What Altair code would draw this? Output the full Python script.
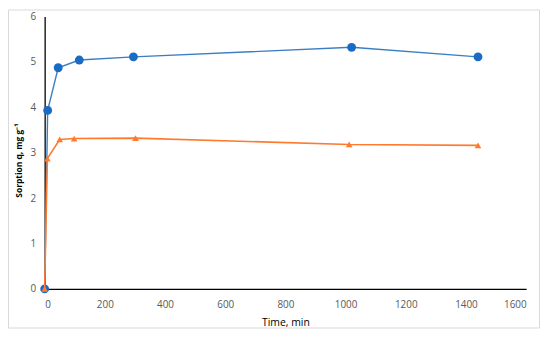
import altair as alt
import pandas as pd

# Data
time_blue = [0, 10, 45, 115, 295, 1020, 1440]
q_blue = [0, 3.93, 4.87, 5.04, 5.11, 5.32, 5.11]
time_orange = [0, 9, 50, 98, 302, 1012, 1440]
q_orange = [0, 2.87, 3.29, 3.31, 3.32, 3.18, 3.16]

x_ticks = list(range(0, 1601, 200))
y_ticks = [0, 1, 2, 3, 4, 5, 6]

blue_df = pd.DataFrame({"t": time_blue, "q": q_blue})
orange_df = pd.DataFrame({"t": time_orange, "q": q_orange})

xs = alt.Scale(domain=[0, 1600], nice=False)
ys = alt.Scale(domain=[0, 6], nice=False)

x_enc = alt.X("t:Q", scale=xs, axis=alt.Axis(values=x_ticks, format="d", title="Time, min"))
y_enc = alt.Y("q:Q", scale=ys, axis=alt.Axis(values=y_ticks, format="d", title="Sorption q, mg g⁻¹", titleY=145))

BLUE_LINE = "#3A7FC4"
BLUE_PT = "#1A6BC4"
ORANGE = "#FF7A2F"

blue_line = alt.Chart(blue_df).mark_line(strokeWidth=1.4, color=BLUE_LINE).encode(x=x_enc, y=y_enc)
blue_pts = alt.Chart(blue_df).mark_point(filled=True, shape="circle", size=80, color=BLUE_PT, opacity=1).encode(x="t:Q", y="q:Q")
orange_line = alt.Chart(orange_df).mark_line(strokeWidth=1.6, color=ORANGE).encode(x="t:Q", y="q:Q")
orange_pts = alt.Chart(orange_df).mark_point(filled=True, shape="triangle-up", size=45, color=ORANGE, opacity=1).encode(x="t:Q", y="q:Q")

border = alt.Chart(pd.DataFrame({"a": [0]})).mark_rect(
    fill=None, stroke="#D9D9D9", strokeWidth=1, clip=False
).encode(x=alt.value(-36.5), x2=alt.value(499.5), y=alt.value(-6.5), y2=alt.value(314.5))

chart = alt.layer(border, blue_line, blue_pts, orange_line, orange_pts).properties(
    width=486, height=275,
    autosize=alt.AutoSizeParams(type="none"),
    padding={"left": 37, "top": 7, "right": 16, "bottom": 41},
    background="white",
).configure_view(stroke=None).configure_axis(
    grid=False, ticks=False, domainColor="#000000", domainWidth=1.3,
    labelColor="#595959", labelFont="Open Sans", labelFontSize=10,
    titleFont="Open Sans", titleColor="#000000",
).configure_axisX(
    labelPadding=11, titleFontSize=10.5, titleFontWeight="normal", titlePadding=8
).configure_axisY(
    labelPadding=9, titleFontSize=8.5, titleFontWeight="bold", titlePadding=7
)

chart.save("out.html", embed_options={"renderer": "svg", "actions": False})
